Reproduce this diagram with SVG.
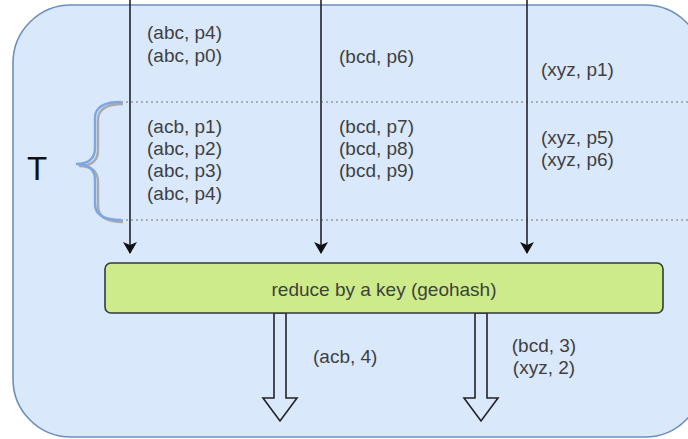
<svg xmlns="http://www.w3.org/2000/svg" width="688" height="439" viewBox="0 0 688 439">
  <defs>
    <marker id="arrow" viewBox="0 0 12 14" refX="11" refY="7" markerWidth="12" markerHeight="14" markerUnits="userSpaceOnUse" orient="auto">
      <path d="M0,0 L12,7 L0,14 L3,7 Z" fill="#111"/>
    </marker>
    <style>
      .lbl { font-family: "Liberation Sans", Arial, sans-serif; font-size: 19px; fill: #3f3f3f; }
      .flow { stroke: #222; stroke-width: 1.6; fill: none; }
      .sep { stroke: #9a9a9a; stroke-width: 1.5; stroke-dasharray: 2 3; fill: none; }
      .fat { fill: #dae8fc; stroke: #222; stroke-width: 1.6; stroke-linejoin: miter; }
    </style>
  </defs>

  <!-- processing window -->
  <g id="window">
    <rect x="13" y="5" width="690" height="432" rx="58" ry="58" fill="#dae8fc" stroke="#6c8ebf" stroke-width="1.6"/>
  </g>

  <!-- time slice separators -->
  <g id="separators">
    <line class="sep" x1="116" y1="102" x2="688" y2="102"/>
    <line class="sep" x1="116" y1="220" x2="688" y2="220"/>
  </g>

  <!-- interval brace -->
  <g id="interval">
    <path d="M123,104 Q98,104 98,120 L98,150 Q98,166 79,166 Q98,166 98,182 L98,206 Q98,222 123,222" fill="none" stroke="#9a9a9a" stroke-width="2.4" opacity="0.8"/>
    <path d="M121,102 Q95,102 95,118 L95,148 Q95,164 76,164 Q95,164 95,180 L95,204 Q95,220 121,220" fill="none" stroke="#7ea6e0" stroke-width="2.4"/>
    <text x="37" y="180" text-anchor="middle" style="font-family: 'Liberation Sans', Arial, sans-serif; font-size: 33px; fill: #111;">T</text>
  </g>

  <!-- input streams -->
  <g id="connectors">
    <line class="flow" x1="130" y1="0" x2="130" y2="253" marker-end="url(#arrow)"/>
    <line class="flow" x1="321" y1="0" x2="321" y2="253" marker-end="url(#arrow)"/>
    <line class="flow" x1="527" y1="0" x2="527" y2="253" marker-end="url(#arrow)"/>
    <polygon class="fat" points="274,313 286,313 286,398 297,398 280,421 263,398 274,398"/>
    <polygon class="fat" points="475,313 487,313 487,398 498,398 481,421 464,398 475,398"/>
  </g>

  <!-- stream records -->
  <g id="stream-a" class="lbl">
    <text x="147" y="39">(abc, p4)</text>
    <text x="147" y="62">(abc, p0)</text>
    <text x="147" y="133">(acb, p1)</text>
    <text x="147" y="155">(abc, p2)</text>
    <text x="147" y="177">(abc, p3)</text>
    <text x="147" y="200">(abc, p4)</text>
  </g>
  <g id="stream-b" class="lbl">
    <text x="339" y="63">(bcd, p6)</text>
    <text x="339" y="133">(bcd, p7)</text>
    <text x="339" y="155">(bcd, p8)</text>
    <text x="339" y="177">(bcd, p9)</text>
  </g>
  <g id="stream-c" class="lbl">
    <text x="541" y="76">(xyz, p1)</text>
    <text x="541" y="144">(xyz, p5)</text>
    <text x="541" y="166">(xyz, p6)</text>
  </g>

  <!-- reducer -->
  <g id="reducer">
    <rect x="105" y="263" width="558" height="50" rx="6" ry="6" fill="#cdeb8b" stroke="#36393d" stroke-width="1.6"/>
    <text class="lbl" x="384" y="296" text-anchor="middle">reduce by a key (geohash)</text>
  </g>

  <!-- reduced output -->
  <g id="output-a" class="lbl">
    <text x="313" y="363">(acb, 4)</text>
  </g>
  <g id="output-b" class="lbl">
    <text x="544" y="352" text-anchor="middle">(bcd, 3)</text>
    <text x="544" y="374" text-anchor="middle">(xyz, 2)</text>
  </g>
</svg>
